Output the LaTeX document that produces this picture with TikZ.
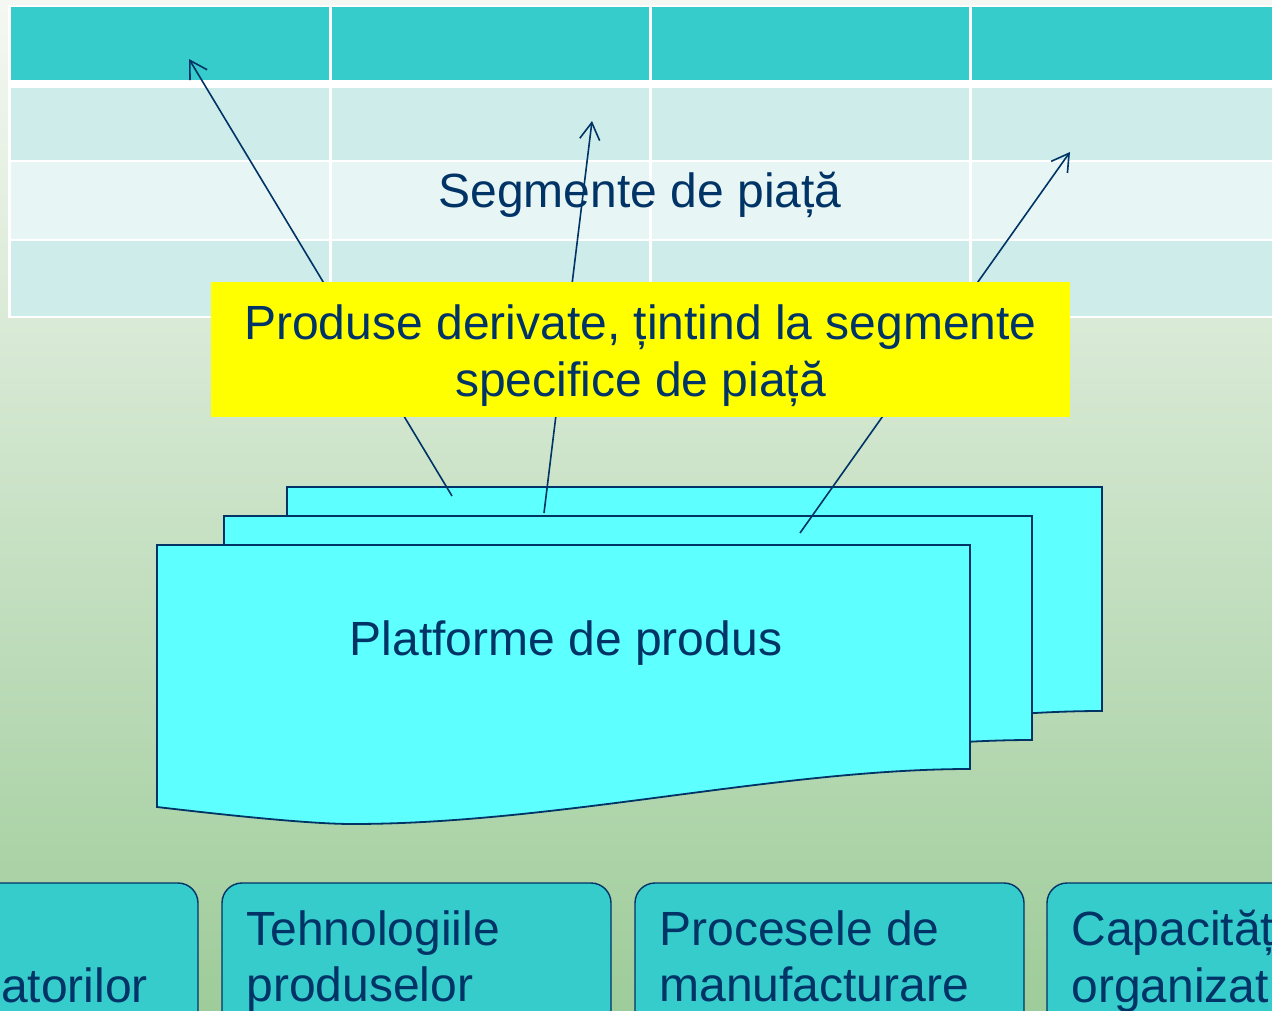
\documentclass[tikz,border=0pt]{standalone}
\usepackage{fontspec}
\setmainfont{Liberation Sans}
\usepackage{tikz}
\usetikzlibrary{arrows.meta}

\definecolor{navy}{RGB}{0,51,102}
\definecolor{tealhead}{RGB}{54,204,204}
\definecolor{rowdark}{RGB}{206,236,234}
\definecolor{rowlight}{RGB}{231,245,244}
\definecolor{pagefill}{RGB}{94,255,255}
\definecolor{pureyellow}{RGB}{255,255,0}
\definecolor{bgtop}{RGB}{245,248,242}
\definecolor{bgbot}{RGB}{158,204,154}

\begin{document}
\begin{tikzpicture}
        [x=1pt, y=-1pt,
        txt/.style = {text=navy,
        font=\fontsize{48}{56.5}\selectfont,
        inner sep=0pt},
        derived/.style = {rectangle,
        fill=pureyellow,
        minimum width=859pt,
        minimum height=135pt},
        basebox/.style = {rectangle,
        rounded corners=20pt,
        draw=navy, line width=1.4pt,
        fill=tealhead,
        minimum width=389pt,
        minimum height=220pt},
        page/.style = {draw=navy, line width=1.8pt, fill=pagefill},
        link/.style = {navy, line width=1.6pt,
        -{Straight Barb[length=17pt,width=20pt]}}]

        \useasboundingbox (0,0) rectangle (1272,1011);
        \clip (0,0) rectangle (1272,1011);

        % Background
        \shade[top color=bgtop, bottom color=bgbot] (0,0) rectangle (1272,1011);

        % Market segments table
        \fill[white] (8,5) rectangle (1290,318);
        \fill[tealhead] (11,7) rectangle (1290,80);
        \fill[rowdark] (11,88) rectangle (1290,160.5);
        \fill[rowlight] (11,162.5) rectangle (1290,239);
        \fill[rowdark] (11,241) rectangle (1290,315.5);
        \foreach \x in {330,650,970}
            \draw[white, line width=3pt] (\x,5) -- (\x,318);
        \node[txt, anchor=base] (seg) at (640,208) {Segmente de piață};

        % Target points in the table
        \coordinate (t1) at (189,59);
        \coordinate (t2) at (592,121);
        \coordinate (t3) at (1070,152);

        % Product platforms (back to front)
        \foreach \x/\y/\w in {287/487/815, 224/516/808, 157/545/813}
            \draw[page, shift={(\x,\y)}] (0,0) -- (\w,0) -- (\w,224)
                .. controls (\w-193,224) and (\w-413,279) .. (195,279)
                .. controls (150,279) and (60,269) .. (0,262) -- cycle;
        \node[txt, anchor=base] (plat) at (566,655) {Platforme de produs};

        % Start points on the platforms
        \coordinate (p1) at (452,496);
        \coordinate (p2) at (544,513);
        \coordinate (p3) at (800,533);

        % Arrows
        \draw[link] (p1) -- (t1);
        \draw[link] (p2) -- (t2);
        \draw[link] (p3) -- (t3);

        % Derived products
        \node[derived] (deriv) at (640.5,349) {};
        \node[txt, align=center, anchor=north] (derivtxt) at (640.5,304.6)
            {Produse derivate, țintind la segmente\\specifice de piață};

        % Foundations
        \foreach \n/\cx in {1/3.5, 2/416.5, 3/829.5, 4/1241.5}
            \node[basebox] (b\n) at (\cx,993) {};
        \node[txt, anchor=base west] (b1txt) at (1,1002) {atorilor};
        \node[txt, align=left, anchor=north west] (b2txt)
            at ([xshift=25pt, yshift=-28pt]b2.north west) {Tehnologiile\\produselor};
        \node[txt, align=left, anchor=north west] (b3txt)
            at ([xshift=25pt, yshift=-28pt]b3.north west) {Procesele de\\manufacturare};
        \node[txt, align=left, anchor=north west] (b4txt)
            at ([xshift=25pt, yshift=-28pt]b4.north west) {Capacităț\\organizat};
    \end{tikzpicture}
\end{document}
